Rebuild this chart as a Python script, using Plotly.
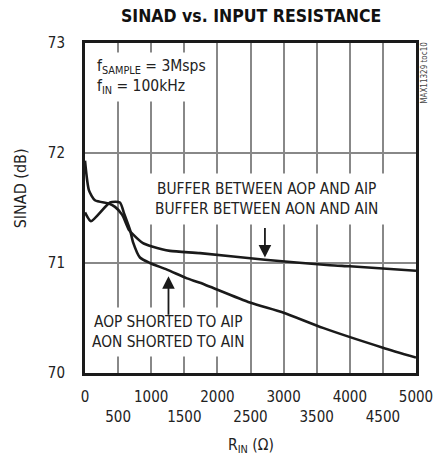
import plotly.graph_objects as go

# Data
buffer_x = [0, 60, 150, 362, 453, 560, 665, 725, 876, 1012, 1284, 1737, 2718, 3700, 4000, 5000]
buffer_y = [71.93, 71.66, 71.57, 71.54, 71.51, 71.44, 71.30, 71.26, 71.18, 71.15, 71.11, 71.09, 71.03, 70.98, 70.97, 70.93]

shorted_x = [0, 90, 378, 528, 590, 680, 725, 830, 980, 1238, 1540, 1737, 2490, 2990, 3594, 4500, 5000]
shorted_y = [71.46, 71.38, 71.55, 71.55, 71.45, 71.30, 71.19, 71.05, 71.00, 70.94, 70.86, 70.82, 70.64, 70.55, 70.41, 70.23, 70.14]

x_major_ticks = [0, 1000, 2000, 3000, 4000, 5000]
x_minor_ticks = [500, 1500, 2500, 3500, 4500]
y_ticks = [70, 71, 72, 73]

FONT = "DejaVu Sans Condensed, Liberation Sans Narrow, sans-serif"
TXT = "#222"

fig = go.Figure()
for xs, ys in ((buffer_x, buffer_y), (shorted_x, shorted_y)):
    fig.add_trace(go.Scatter(x=xs, y=ys, mode="lines",
                             line=dict(color="#1a1a1a", width=2.6, shape="spline", smoothing=0.6),
                             showlegend=False, hoverinfo="skip"))

all_x = sorted(x_major_ticks + x_minor_ticks)
x_text = [str(v) if v in x_major_ticks else "<br>" + str(v) for v in all_x]

fig.update_layout(
    width=433, height=458,
    margin=dict(l=85, r=17, t=43, b=85, autoexpand=False),
    paper_bgcolor="white", plot_bgcolor="white",
    font=dict(family=FONT, color=TXT, size=15),
    xaxis=dict(range=[0, 5000], tickmode="array", tickvals=all_x, ticktext=x_text, tickangle=0,
               ticklabeloverflow="allow",
               showgrid=True, gridcolor="#888", gridwidth=1.5,
               minor=dict(dtick=500, tick0=0, showgrid=True, gridcolor="#888", gridwidth=1.5, ticks=""),
               showline=True, linecolor="#1a1a1a", linewidth=3, mirror=True,
               zeroline=False, ticks="outside", ticklen=8, tickcolor="rgba(0,0,0,0)",
               tickfont=dict(size=15, family=FONT, color=TXT)),
    yaxis=dict(range=[70, 73], tickvals=y_ticks, ticktext=[str(v) for v in y_ticks],
               showgrid=True, gridcolor="#888", gridwidth=1.5,
               showline=True, linecolor="#1a1a1a", linewidth=3, mirror=True,
               zeroline=False, ticks="", ticklabelstandoff=14,
               tickfont=dict(size=15, family=FONT, color=TXT)),
)

ann = []
ann.append(dict(xref="paper", yref="paper", x=0.5, y=1.0, yshift=27, xanchor="center", yanchor="middle",
                text="<b>SINAD vs. INPUT RESISTANCE</b>", showarrow=False,
                font=dict(size=17.5, family=FONT, color="#111")))
ann.append(dict(xref="paper", yref="paper", x=-0.196, y=0.56, xanchor="center", yanchor="middle",
                text="SINAD (dB)", textangle=-90, showarrow=False,
                font=dict(size=16, family=FONT, color=TXT)))
ann.append(dict(xref="paper", yref="paper", x=0.5, y=-0.221, xanchor="center", yanchor="middle",
                text="R<sub>IN</sub> (Ω)", showarrow=False,
                font=dict(size=15.5, family=FONT, color=TXT)))
ann.append(dict(x=100, y=72.69, xanchor="left", yanchor="middle", align="left",
                text="f<sub>SAMPLE</sub> = 3Msps<br>f<sub>IN</sub> = 100kHz", showarrow=False,
                bgcolor="white", borderpad=4,
                font=dict(size=15.5, family=FONT, color=TXT)))
ann.append(dict(x=2748, y=71.58, xanchor="center", yanchor="middle", align="center",
                text="BUFFER BETWEEN AOP AND AIP<br>BUFFER BETWEEN AON AND AIN", showarrow=False,
                bgcolor="white", borderpad=6,
                font=dict(size=15.3, family=FONT, color=TXT)))
ann.append(dict(x=1260, y=70.37, xanchor="center", yanchor="middle", align="center",
                text="AOP SHORTED TO AIP<br>AON SHORTED TO AIN", showarrow=False,
                bgcolor="white", borderpad=5,
                font=dict(size=15.3, family=FONT, color=TXT)))
ann.append(dict(x=2718, y=71.05, ax=0, ay=-31, text="", showarrow=True,
                arrowhead=2, arrowsize=1.4, arrowwidth=1.8, arrowcolor="#1a1a1a"))
ann.append(dict(x=1261, y=70.88, ax=0, ay=40, text="", showarrow=True,
                arrowhead=2, arrowsize=1.4, arrowwidth=1.8, arrowcolor="#1a1a1a"))
ann.append(dict(xref="paper", yref="paper", x=1.0, xshift=9, y=0.91, xanchor="center", yanchor="middle",
                text="MAX11329 toc10", textangle=-90, showarrow=False,
                font=dict(size=8, family=FONT, color="#444")))
fig.update_layout(annotations=ann)

fig.write_html("out.html", config={"displayModeBar": False},
               post_script="document.body.style.margin='0';")
